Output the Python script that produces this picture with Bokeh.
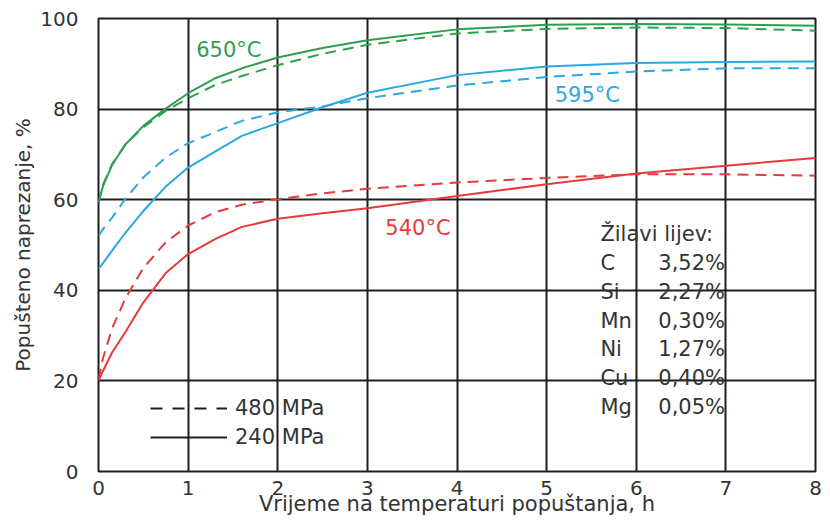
import numpy as np
from bokeh.plotting import figure
from bokeh.models import FixedTicker, Label, Legend, LegendItem, Range1d
from bokeh.embed import file_html
from bokeh.resources import INLINE

# ---------------- data ----------------
hours = [0, 0.05, 0.15, 0.3, 0.5, 0.75, 1, 1.3, 1.6, 2, 2.5, 3, 4, 5, 6, 7, 8]

green_240 = [59.3, 63.0, 67.6, 72.2, 76.3, 80.1, 83.5, 86.8, 89.0, 91.4, 93.5, 95.2, 97.6, 98.6, 98.8, 98.7, 98.4]
green_480 = [59.3, 63.3, 67.8, 72.2, 76.0, 79.6, 82.4, 85.3, 87.3, 89.7, 92.2, 94.2, 96.7, 97.7, 98.0, 97.9, 97.3]
blue_240 = [44.7, 46.0, 48.7, 52.7, 57.5, 62.9, 67.1, 70.6, 74.1, 76.9, 80.4, 83.6, 87.5, 89.4, 90.2, 90.4, 90.5]
blue_480 = [52.0, 53.5, 56.0, 60.2, 64.9, 69.3, 72.5, 74.9, 77.4, 79.3, 80.6, 82.4, 85.2, 87.1, 88.3, 89.0, 89.0]
red_240 = [20.0, 22.2, 26.2, 30.8, 37.3, 43.8, 48.0, 51.3, 54.0, 55.8, 57.0, 58.1, 60.8, 63.4, 65.8, 67.5, 69.2]
red_480 = [20.3, 25.0, 31.5, 38.2, 44.9, 50.6, 54.3, 57.2, 58.9, 60.1, 61.4, 62.4, 63.8, 64.8, 65.6, 65.6, 65.3]

x_ticks = [0, 1, 2, 3, 4, 5, 6, 7, 8]
y_ticks = [0, 20, 40, 60, 80, 100]

temp_labels = ["650°C", "595°C", "540°C"]
stress_labels = ["480 MPa", "240 MPa"]
comp_title = "Žilavi lijev:"
comp_elements = ["C", "Si", "Mn", "Ni", "Cu", "Mg"]
comp_values = ["3,52%", "2,27%", "0,30%", "1,27%", "0,40%", "0,05%"]

x_title = "Vrijeme na temperaturi popuštanja, h"
y_title = "Popušteno naprezanje, %"

# ---------------- style ----------------
FONT = "DejaVu Sans"
TXT = "#333333"
GRID = "#1e1e1e"
GREEN = "#2e9f4e"
BLUE = "#2aa8e0"
RED = "#e8393b"
DASH = "11 7"

p = figure(width=822, height=518, x_range=Range1d(0, 8), y_range=Range1d(0, 100),
           output_backend="svg", toolbar_location=None,
           min_border_left=98, min_border_right=7, min_border_top=18, min_border_bottom=40)

p.background_fill_color = "white"
p.border_fill_color = "white"
p.outline_line_color = GRID
p.outline_line_width = 2

p.xaxis.ticker = FixedTicker(ticks=x_ticks)
p.yaxis.ticker = FixedTicker(ticks=y_ticks)
for ax in (p.xaxis, p.yaxis):
    ax.axis_line_color = None
    ax.major_tick_line_color = None
    ax.minor_tick_line_color = None
    ax.major_label_text_font = FONT
    ax.major_label_text_font_size = "20px"
    ax.major_label_text_color = TXT
    ax.axis_label_text_font = FONT
    ax.axis_label_text_font_style = "normal"
    ax.axis_label_text_color = TXT
p.xaxis.major_label_standoff = 3
p.yaxis.major_label_standoff = 14
p.yaxis.axis_label = y_title
p.yaxis.axis_label_text_font_size = "20px"
p.yaxis.axis_label_standoff = 2
p.xaxis.axis_label = x_title
p.xaxis.axis_label_text_font_size = "21px"
p.xaxis.axis_label_standoff = -6

p.xgrid.ticker = FixedTicker(ticks=x_ticks)
p.ygrid.ticker = FixedTicker(ticks=y_ticks)
for g in (p.xgrid, p.ygrid):
    g.grid_line_color = GRID
    g.grid_line_width = 2

# curves
p.line(hours, green_480, line_color=GREEN, line_width=2, line_dash=DASH)
p.line(hours, green_240, line_color=GREEN, line_width=2)
p.line(hours, blue_480, line_color=BLUE, line_width=2, line_dash=DASH)
p.line(hours, blue_240, line_color=BLUE, line_width=2)
p.line(hours, red_480, line_color=RED, line_width=2, line_dash=DASH)
p.line(hours, red_240, line_color=RED, line_width=2)

# temperature labels
for txt, col, lx, ly in zip(temp_labels, [GREEN, BLUE, RED], [1.09, 5.09, 3.2], [93.0, 83.2, 53.8]):
    p.add_layout(Label(x=lx, y=ly, text=txt, text_color=col, text_font=FONT,
                       text_font_size="21px", text_baseline="alphabetic"))

# composition block
row_h = 6.39
p.add_layout(Label(x=5.6, y=52.5, text=comp_title, text_color=TXT, text_font=FONT,
                   text_font_size="21px", text_baseline="alphabetic"))
for i, (el, val) in enumerate(zip(comp_elements, comp_values)):
    yy = 52.5 - row_h * (i + 1)
    p.add_layout(Label(x=5.6, y=yy, text=el, text_color=TXT, text_font=FONT,
                       text_font_size="21px", text_baseline="alphabetic"))
    p.add_layout(Label(x=6.99, y=yy, text=val, text_color=TXT, text_font=FONT,
                       text_font_size="21px", text_baseline="alphabetic", text_align="right"))

# legend (stress levels)
nan = np.array([np.nan])
r_dash = p.line(x=nan, y=nan, line_color=GRID, line_width=2, line_dash="12 10")
r_solid = p.line(x=nan, y=nan, line_color=GRID, line_width=2)
legend = Legend(items=[LegendItem(label=stress_labels[0], renderers=[r_dash]),
                       LegendItem(label=stress_labels[1], renderers=[r_solid])],
                location=(52, 22), padding=0, margin=0, spacing=5,
                glyph_width=77, glyph_height=20, label_height=20, label_standoff=8,
                label_text_font=FONT, label_text_font_size="21px", label_text_color=TXT,
                border_line_color=None, background_fill_alpha=0)
p.add_layout(legend)

open("out.html", "w").write(file_html(p, INLINE))
